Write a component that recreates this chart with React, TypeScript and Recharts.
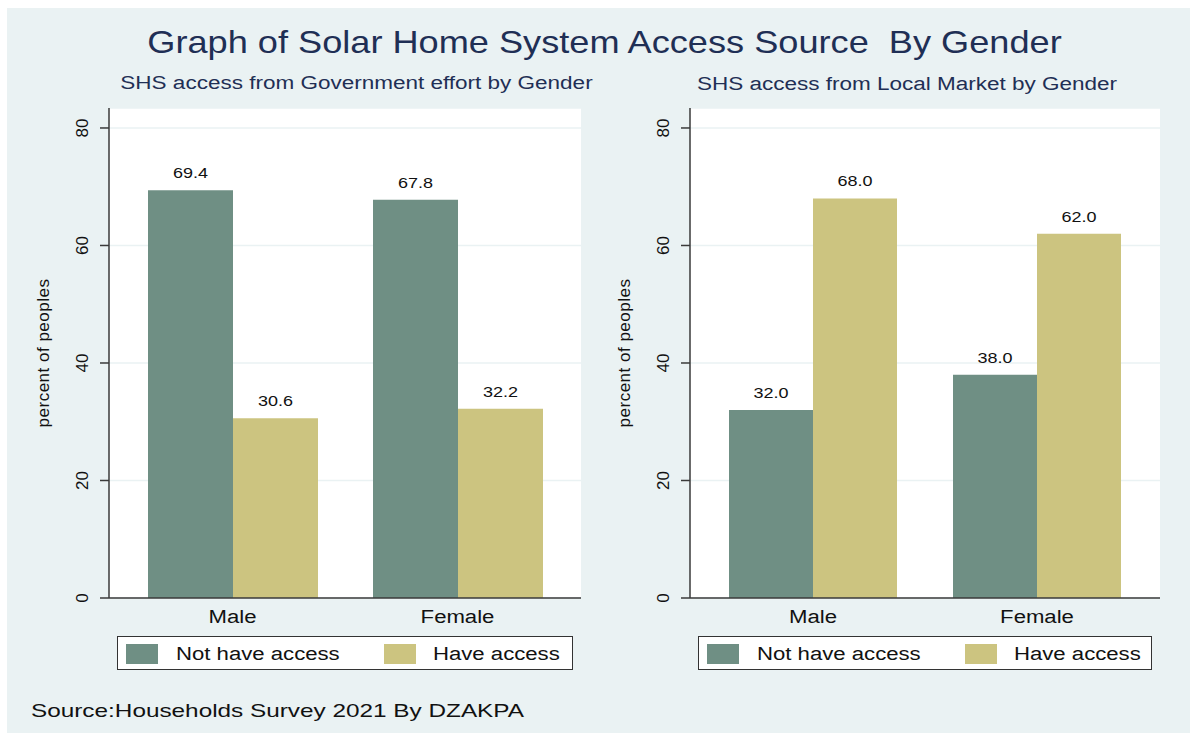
import React from 'react';
import { BarChart, Bar, XAxis, YAxis, CartesianGrid, LabelList } from 'recharts';

// ─── Data ─────────────────────────────────

const genders = ['Male', 'Female'];
const govNotHave = [69.4, 67.8];
const govHave = [30.6, 32.2];
const marketNotHave = [32.0, 38.0];
const marketHave = [68.0, 62.0];
const yTicks = [0, 20, 40, 60, 80];

const seriesNames = ['Not have access', 'Have access'];

const FONT = '"Liberation Sans", Arial, Helvetica, sans-serif';
const BG = '#eaf2f3';
const DARK = '#6f8f84';
const LIGHT = '#ccc480';
const NAVY = '#1f2f55';
const AXIS = '#3a3a3a';

function buildRows(notHave: number[], have: number[]) {
  return genders.map((g, i) => ({ gender: g, notHave: notHave[i], have: have[i] }));
}

// the reference is stretched sideways, so horizontal text gets a scaleX

// ─── Axis pieces ──────────────────────────

function RotatedTick(props: any) {
  const { x, y, payload } = props;
  return (
    <text
      transform={`translate(${x - 18}, ${y}) rotate(-90)`}
      textAnchor="middle"
      dominantBaseline="central"
      fontFamily={FONT}
      fontSize={17}
      fill="#111"
    >
      {payload.value}
    </text>
  );
}

function CategoryTick(props: any) {
  const { x, y, payload } = props;
  return (
    <text
      transform={`translate(${x}, ${y + 25}) scale(1.23, 1)`}
      textAnchor="middle"
      fontFamily={FONT}
      fontSize={18}
      fill="#111"
    >
      {payload.value}
    </text>
  );
}

function YTitle(props: any) {
  const vb = props.viewBox || {};
  const cx = vb.x + vb.width - 66;
  const cy = vb.y + vb.height / 2;
  return (
    <text
      transform={`translate(${cx}, ${cy}) rotate(-90)`}
      textAnchor="middle"
      dominantBaseline="central"
      fontFamily={FONT}
      fontSize={17}
      letterSpacing={0.5}
      fill="#111"
    >
      percent of peoples
    </text>
  );
}

function ValueLabel(props: any) {
  const { x, y, width, value } = props;
  return (
    <text
      transform={`translate(${x + width / 2}, ${y - 12}) scale(1.2, 1)`}
      textAnchor="middle"
      fontFamily={FONT}
      fontSize={15}
      fill="#111"
    >
      {Number(value).toFixed(1)}
    </text>
  );
}

// ─── One panel ────────────────────────────

function Panel({ left, notHave, have, rightMargin }: {
  left: number;
  notHave: number[];
  have: number[];
  rightMargin: number;
}) {
  const data = buildRows(notHave, have);
  return (
    <div style={{ position: 'absolute', left, top: 0 }}>
      <BarChart
        width={600}
        height={734}
        data={data}
        margin={{ top: 108, right: rightMargin, bottom: 106, left: 39 }}
        barCategoryGap={28}
        barGap={0}
      >
        <CartesianGrid vertical={false} stroke={BG} strokeWidth={1.5} fill="#ffffff" />
        <XAxis
          dataKey="gender"
          height={30}
          padding={{ left: 11, right: 11 }}
          tickLine={false}
          tickSize={0}
          tickMargin={0}
          axisLine={{ stroke: AXIS, strokeWidth: 1.5 }}
          tick={<CategoryTick />}
        />
        <YAxis
          width={70}
          domain={[0, 83.4]}
          ticks={yTicks}
          interval={0}
          tickSize={9}
          tickMargin={0}
          axisLine={{ stroke: AXIS, strokeWidth: 1.5 }}
          tickLine={{ stroke: AXIS, strokeWidth: 1.5 }}
          tick={<RotatedTick />}
          label={{ content: <YTitle /> }}
        />
        <Bar dataKey="notHave" name={seriesNames[0]} fill={DARK} isAnimationActive={false}>
          <LabelList dataKey="notHave" content={<ValueLabel />} />
        </Bar>
        <Bar dataKey="have" name={seriesNames[1]} fill={LIGHT} isAnimationActive={false}>
          <LabelList dataKey="have" content={<ValueLabel />} />
        </Bar>
      </BarChart>
    </div>
  );
}

// ─── Legend box ───────────────────────────

function LegendBox({ left, width }: { left: number; width: number }) {
  const swatch = (color: string, x: number) => (
    <div style={{ position: 'absolute', left: x, top: 7, width: 32, height: 20, background: color }} />
  );
  const label = (text: string, x: number) => (
    <div
      style={{
        position: 'absolute',
        left: x,
        top: 7,
        fontSize: 18,
        lineHeight: '20px',
        color: '#111',
        whiteSpace: 'nowrap',
        transform: 'scaleX(1.23)',
        transformOrigin: 'left center',
      }}
    >
      {text}
    </div>
  );
  return (
    <div
      style={{
        position: 'absolute',
        left,
        top: 636,
        width,
        height: 32,
        background: '#fff',
        border: '1px solid #333',
        fontFamily: FONT,
      }}
    >
      {swatch(DARK, 8)}
      {label(seriesNames[0], 58)}
      {swatch(LIGHT, 266)}
      {label(seriesNames[1], 315)}
    </div>
  );
}

// ─── App ──────────────────────────────────

export default function App() {
  const text = (content: string, style: React.CSSProperties) => (
    <div style={{ position: 'absolute', fontFamily: FONT, lineHeight: 1, whiteSpace: 'pre', ...style }}>
      {content}
    </div>
  );

  return (
    <div style={{ position: 'fixed', left: 0, top: 0, width: 1190, height: 734, background: '#fff', overflow: 'hidden' }}>
      <div style={{ position: 'absolute', left: 7, top: 8, width: 1183, height: 725, background: BG }} />

      {text('Graph of Solar Home System Access Source  By Gender', {
        left: 0, width: 1209, top: 26, textAlign: 'center', fontSize: 32, color: NAVY,
        transform: 'scaleX(1.13)', transformOrigin: 'center',
      })}
      {text('SHS access from Government effort by Gender', {
        left: 0, width: 713, top: 74, textAlign: 'center', fontSize: 18, color: NAVY,
        transform: 'scaleX(1.25)', transformOrigin: 'center',
      })}
      {text('SHS access from Local Market by Gender', {
        left: 607, width: 600, top: 75, textAlign: 'center', fontSize: 18, color: NAVY,
        transform: 'scaleX(1.25)', transformOrigin: 'center',
      })}

      <Panel left={0} notHave={govNotHave} have={govHave} rightMargin={19} />
      <Panel left={581} notHave={marketNotHave} have={marketHave} rightMargin={21} />

      <LegendBox left={117} width={454} />
      <LegendBox left={698} width={452} />

      {text('Source:Households Survey 2021 By DZAKPA', {
        left: 31, top: 701, fontSize: 19, color: '#111',
        transform: 'scaleX(1.28)', transformOrigin: 'left center',
      })}
    </div>
  );
}
